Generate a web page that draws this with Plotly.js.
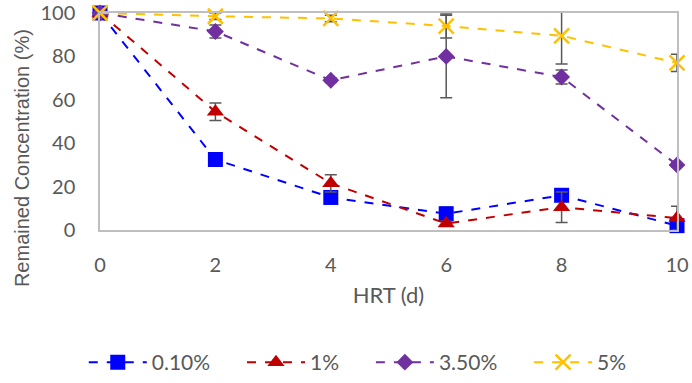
<!DOCTYPE html>
<html><head><meta charset="utf-8">
<script src="https://cdn.plot.ly/plotly-3.0.1.min.js"></script>
<style>html,body{margin:0;padding:0;background:#fff;}#chart{width:692px;height:383px;}</style>
</head><body><div id="chart"></div>
<script>
const hrt = [0, 2, 4, 6, 8, 10];
const seriesNames = ["0.10%", "1%", "3.50%", "5%"];
const conc010 = [100, 32.5, 15, 7.5, 16, 2];
const err010 = [0, 1.5, 1.5, 3, 1.5, 1];
const conc1 = [100, 54.5, 21.5, 3, 10.5, 5.5];
const err1 = [0, 4, 4, 1, 7, 5.5];
const conc35 = [100, 91.5, 69, 80, 70.5, 30];
const err35 = [0, 3, 1, 19, 3.2, 1];
const conc5 = [100, 98.5, 97.5, 94, 89.5, 77];
const err5 = [0, 1.5, 1.5, 5.5, 13, 4];
const xTicks = [0, 2, 4, 6, 8, 10];
const yTicks = [0, 20, 40, 60, 80, 100];

const colors = ["#0000FF", "#C00000", "#7030A0", "#FFC000"];
const symbols = ["square", "triangle-up", "diamond", "x-thin-open"];
const sizes = [15, 15, 13, 15];
const ys = [conc010, conc1, conc35, conc5];
const errs = [err010, err1, err35, err5];
const sansC = 'Lato, "Open Sans", sans-serif';
const grey = '#595959';
const nb = '\u00A0';

const traces = ys.map((y, i) => ({
  type: 'scatter', mode: 'lines+markers',
  name: seriesNames[i] + (i < 3 ? nb.repeat(5) : ''),
  x: hrt, y: y,
  line: {color: colors[i], width: 2, dash: 'dash'},
  marker: {symbol: symbols[i], size: sizes[i], color: colors[i],
           line: {color: colors[i], width: i === 3 ? 2.5 : 0}},
  error_y: {type: 'data', array: errs[i], visible: true, color: grey, thickness: 1.5, width: 6},
  cliponaxis: false
}));

const layout = {
  width: 692, height: 383,
  margin: {l: 100, r: 15, t: 13, b: 153},
  paper_bgcolor: '#fff', plot_bgcolor: '#fff',
  showlegend: true,
  legend: {orientation: 'h', x: 0.517, xref: 'container', xanchor: 'center', y: 19, yref: 'container', yanchor: 'middle',
           font: {family: sansC, size: 21, color: grey}, itemwidth: 58, traceorder: 'normal'},
  xaxis: {range: [0, 10], tickvals: xTicks, ticktext: xTicks.map(String), showgrid: false, zeroline: false,
          showline: true, mirror: true, linecolor: '#BFBFBF', linewidth: 1.5, ticks: '',
          ticklabelstandoff: 16,
          tickfont: {family: sansC, size: 20, color: grey},
          title: {text: 'HRT (d)', font: {family: sansC, size: 22, color: grey}, standoff: 13}},
  yaxis: {range: [0, 100], tickvals: yTicks, ticktext: yTicks.map(String), showgrid: false, zeroline: false,
          showline: true, mirror: true, linecolor: '#BFBFBF', linewidth: 1.5, ticks: '',
          ticklabelstandoff: 19,
          tickfont: {family: sansC, size: 20, color: grey}},
  annotations: [{text: 'Remained Concentration (%)', textangle: -90, xref: 'paper', yref: 'paper',
    x: -0.134, y: 0.33, xanchor: 'center', yanchor: 'middle', showarrow: false,
    font: {family: '"Liberation Sans", Arial, sans-serif', size: 20, color: grey}}]
};
Plotly.newPlot('chart', traces, layout, {displayModeBar: false, responsive: false});
</script></body></html>
